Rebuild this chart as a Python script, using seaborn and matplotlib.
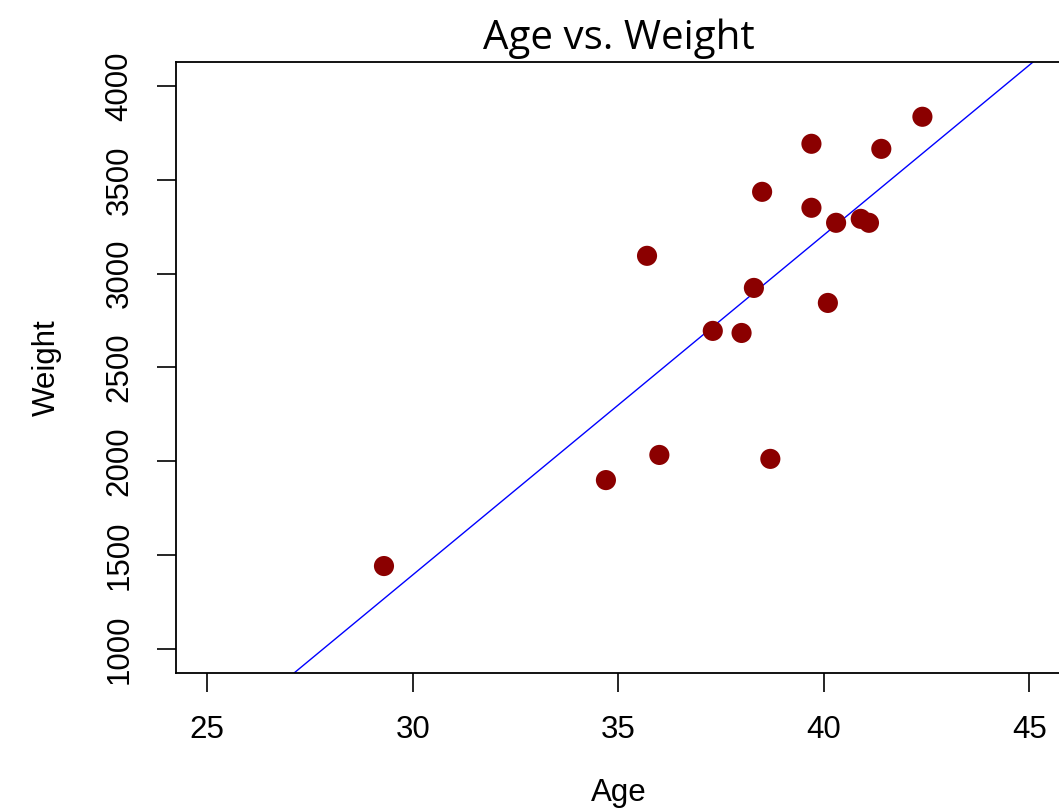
import numpy as np
import pandas as pd
import matplotlib
matplotlib.use("Agg")
import matplotlib.pyplot as plt
import seaborn as sns

# Age / weight values
age = [29.3, 34.7, 35.7, 36.0, 37.3, 38.0, 38.3, 38.5, 38.7, 39.7, 39.7,
       40.1, 40.3, 40.9, 41.1, 41.4, 42.4]
weight = [1442, 1900, 3095, 2034, 2695, 2684, 2924, 3436, 2013, 3692, 3351,
          2844, 3271, 3292, 3271, 3665, 3836]
x_ticks = [25, 30, 35, 40, 45]
y_ticks = [1000, 1500, 2000, 2500, 3000, 3500, 4000]

df = pd.DataFrame({"Age": age, "Weight": weight})

sns.set_style("white", {"text.color": "black", "axes.labelcolor": "black",
                        "xtick.color": "black", "ytick.color": "black"})
plt.rcParams["font.family"] = ["Liberation Sans", "DejaVu Sans"]

fig = plt.figure(figsize=(10.59, 8.09), dpi=100)
ax = fig.add_axes([0.1662, 0.1681, 0.836, 0.7553])

sns.scatterplot(data=df, x="Age", y="Weight", ax=ax, color="#8b0000",
                s=210, edgecolor="none", zorder=3)

# least squares line across the whole plot, like abline(lm(...))
slope, intercept = np.polyfit(df["Age"], df["Weight"], 1)
ax.axline((0, intercept), slope=slope, color="blue", lw=1.0, zorder=2)

ax.set_xlim(24.24, 45.78)
ax.set_ylim(872, 4128)
ax.set_xticks(x_ticks)
ax.set_yticks(y_ticks)

for side in ["left", "bottom", "top", "right"]:
    ax.spines[side].set_visible(True)
    ax.spines[side].set_color("black")
    ax.spines[side].set_linewidth(1.3)

ax.tick_params(axis="both", direction="out", length=14, width=1.2,
               labelsize=22.5, pad=16, colors="black", left=True, bottom=True)
for lbl in ax.get_yticklabels():
    lbl.set_rotation(90)
    lbl.set_va("center")

ax.set_xlabel("Age", fontsize=22.5, color="black")
ax.set_ylabel("Weight", fontsize=22.5, color="black")
ax.xaxis.set_label_coords(0.5, -0.172)
ax.yaxis.set_label_coords(-0.129, 0.5)

ax.set_title("Age vs. Weight", fontsize=29, family="Open Sans",
             color="black", pad=9)

fig.savefig("out.png", dpi=100)
